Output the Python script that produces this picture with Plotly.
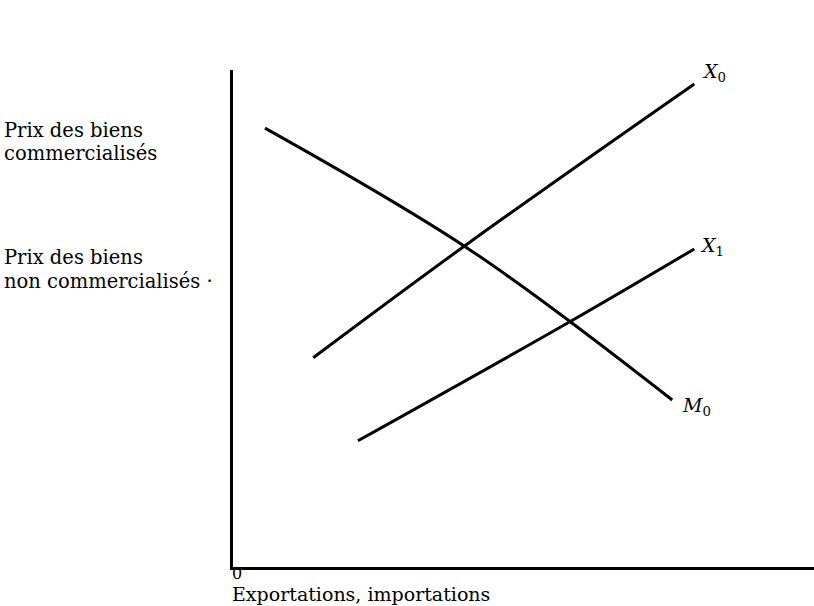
import plotly.graph_objects as go

# Data (conceptual units: quantity 0-100 horizontally, price 0-100 vertically)
m0_x = [5.5, 40.8, 75.6]
m0_y = [88.3, 63.8, 33.6]
x0_x = [13.8, 40.8, 79.4]
x0_y = [42.1, 65.4, 97.2]
x1_x = [21.5, 58.5, 79.4]
x1_y = [25.4, 49.7, 64.0]

curve_labels = ["<i>X</i><sub>0</sub>", "<i>X</i><sub>1</sub>", "<i>M</i><sub>0</sub>"]
curve_label_x = [80.4, 80.0, 76.9]
curve_label_y = [99.4, 64.4, 32.2]

y_title_lines = ["Prix des biens", "commercialisés", "Prix des biens", "non commercialisés ·"]
x_title = "Exportations, importations"
origin_label = "0"

W, H = 814, 606
L, R, T, B = 233, 0, 70, 39
pw, ph = W - L - R, H - T - B

def px(xp):
    return (xp - L) / pw

def py(yp):
    return (H - B - yp) / ph

FONT = "DejaVu Serif"
line_style = dict(color="black", width=3, shape="spline", smoothing=1.0)

fig = go.Figure()
for xs, ys in [(m0_x, m0_y), (x0_x, x0_y), (x1_x, x1_y)]:
    fig.add_trace(go.Scatter(x=xs, y=ys, mode="lines", line=line_style,
                             hoverinfo="skip", showlegend=False, cliponaxis=False))

ann = []
for t, xv, yv in zip(curve_labels, curve_label_x, curve_label_y):
    ann.append(dict(x=xv, y=yv, xref="x", yref="y", text=t, showarrow=False,
                    xanchor="left", yanchor="middle",
                    font=dict(family=FONT, size=19, color="black")))

y_pos = [130, 153, 257, 281]
for t, yp in zip(y_title_lines, y_pos):
    ann.append(dict(x=px(2), y=py(yp), xref="paper", yref="paper", text=t,
                    showarrow=False, xanchor="left", yanchor="middle",
                    font=dict(family=FONT, size=19.5, color="black")))

ann.append(dict(x=px(231), y=py(573), xref="paper", yref="paper", text=origin_label,
                showarrow=False, xanchor="left", yanchor="middle", borderpad=0,
                font=dict(family=FONT, size=16, color="black")))
ann.append(dict(x=px(231), y=py(606), xref="paper", yref="paper", text=x_title,
                showarrow=False, xanchor="left", yanchor="bottom", borderpad=0,
                font=dict(family=FONT, size=19, color="black")))

fig.update_layout(
    width=W, height=H,
    margin=dict(l=L, r=R, t=T, b=B),
    paper_bgcolor="white", plot_bgcolor="white",
    annotations=ann,
    xaxis=dict(range=[0, 100], showgrid=False, zeroline=False, showticklabels=False,
               ticks="", showline=True, linecolor="black", linewidth=3, fixedrange=True),
    yaxis=dict(range=[0, 100], showgrid=False, zeroline=False, showticklabels=False,
               ticks="", showline=True, linecolor="black", linewidth=3, fixedrange=True),
)

fig.write_html("out.html",
               config={"displayModeBar": False, "staticPlot": True},
               post_script="document.body.style.margin='0';document.body.style.overflow='hidden';")
